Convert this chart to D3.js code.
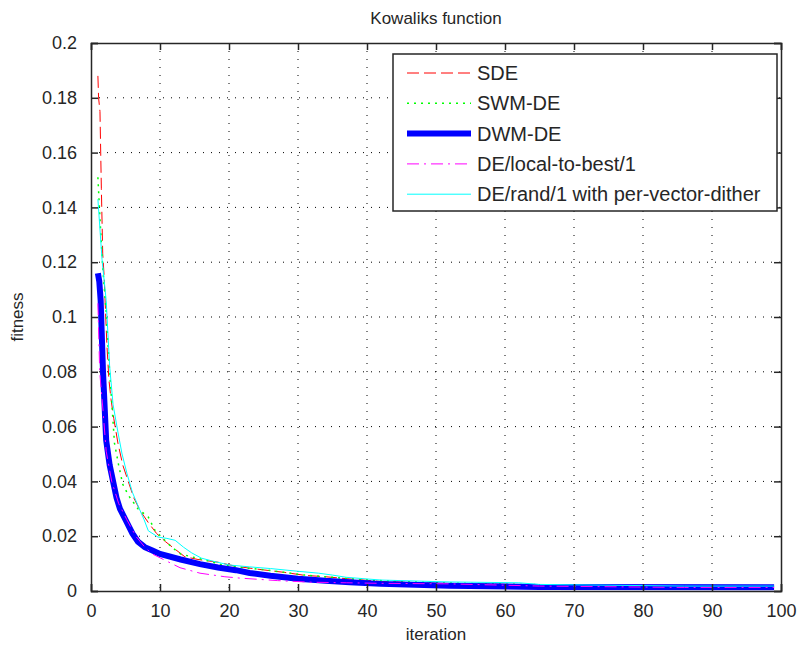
<!DOCTYPE html>
<html>
<head>
<meta charset="utf-8">
<script src="https://cdn.jsdelivr.net/npm/d3@7"></script>
<style>
  body { margin: 0; background: #fff; }
  text { font-family: "Liberation Sans", Arial, sans-serif; fill: #262626; }
</style>
</head>
<body>
<div id="chart"></div>
<script>
// tick values and labels
var xTicks = [0, 10, 20, 30, 40, 50, 60, 70, 80, 90, 100];
var yTicks = [0, 0.02, 0.04, 0.06, 0.08, 0.1, 0.12, 0.14, 0.16, 0.18, 0.2];
var yTickLabels = ['0', '0.02', '0.04', '0.06', '0.08', '0.1', '0.12', '0.14', '0.16', '0.18', '0.2'];

// series names, in plotting order
var names = ['SDE', 'SWM-DE', 'DWM-DE', 'DE/local-to-best/1', 'DE/rand/1 with per-vector-dither'];

// SDE
var sdeIter = [1, 1.1, 1.3, 1.5, 1.7, 1.9, 2.3, 2.6, 2.9, 3.3, 3.9, 4.6, 5.4, 6.2, 7.2, 8.3, 9.5, 10.8, 11.8, 13.6, 15.5, 18.4, 21, 25, 28, 31, 34, 37, 42, 50, 60, 70, 80, 90, 99];
var sdeFit = [0.188, 0.180, 0.175, 0.147, 0.123, 0.115, 0.090, 0.077, 0.070, 0.063, 0.054, 0.046, 0.040, 0.034, 0.029, 0.025, 0.021, 0.018, 0.016, 0.0125, 0.0115, 0.0105, 0.009, 0.0077, 0.0068, 0.0057, 0.0052, 0.0045, 0.0035, 0.0028, 0.0024, 0.0021, 0.0019, 0.0018, 0.0017];

// SWM-DE
var swmIter = [1, 1.1, 1.3, 1.7, 2.2, 2.36, 2.56, 2.7, 2.94, 3.4, 4.0, 4.6, 5.4, 6.8, 8.3, 9.3, 10.5, 11.7, 13, 15, 17, 19, 22, 25, 28, 31, 35, 40, 50, 60, 70, 80, 90, 99];
var swmFit = [0.151, 0.146, 0.136, 0.118, 0.102, 0.0946, 0.086, 0.080, 0.0715, 0.054, 0.046, 0.039, 0.035, 0.030, 0.027, 0.022, 0.019, 0.016, 0.0135, 0.0122, 0.011, 0.0095, 0.0085, 0.0078, 0.0068, 0.0058, 0.005, 0.004, 0.003, 0.0025, 0.0021, 0.0019, 0.0018, 0.0017];

// DWM-DE
var dwmIter = [1, 1.2, 1.4, 1.74, 2.2, 2.7, 3.2, 3.7, 4.2, 5, 6, 6.8, 7.8, 8.9, 10, 13, 15.8, 18.4, 21, 23, 26, 30, 34, 37.5, 42, 52, 65, 99];
var dwmFit = [0.116, 0.113, 0.106, 0.080, 0.055, 0.046, 0.040, 0.034, 0.030, 0.026, 0.021, 0.018, 0.016, 0.0148, 0.0135, 0.0115, 0.0098, 0.0086, 0.0076, 0.0066, 0.0056, 0.0045, 0.0037, 0.0032, 0.0026, 0.0019, 0.0015, 0.0014];

// DE/local-to-best/1
var ltbIter = [1, 1.26, 1.74, 2.2, 3, 4, 5.2, 6.5, 7.8, 8.9, 10.5, 12.9, 15.8, 19.4, 21.6, 27, 32, 37, 42, 52, 65, 86, 99];
var ltbFit = [0.105, 0.080, 0.066, 0.051, 0.040, 0.032, 0.026, 0.020, 0.016, 0.0135, 0.0115, 0.0085, 0.0065, 0.0052, 0.0047, 0.0038, 0.0032, 0.003, 0.0028, 0.0026, 0.0018, 0.0013, 0.0013];

// DE/rand/1 with per-vector-dither
var rndIter = [1, 1.6, 2.2, 2.7, 3.2, 3.9, 4.5, 5.2, 6, 7, 7.7, 8.3, 9.7, 11, 12.2, 13.4, 14.6, 16, 17.5, 20, 23, 26, 30, 33, 35, 37, 42, 52, 62, 65, 86, 99];
var rndFit = [0.143, 0.121, 0.106, 0.082, 0.068, 0.058, 0.050, 0.043, 0.036, 0.030, 0.026, 0.022, 0.0197, 0.0192, 0.0185, 0.016, 0.0139, 0.012, 0.011, 0.0095, 0.0088, 0.0082, 0.0072, 0.0065, 0.0058, 0.005, 0.004, 0.0033, 0.003, 0.0024, 0.0018, 0.0018];

var iters = [sdeIter, swmIter, dwmIter, ltbIter, rndIter];
var fits = [sdeFit, swmFit, dwmFit, ltbFit, rndFit];
var colors = ['#ff0000', '#00ff00', '#0000ff', '#ff00ff', '#00ffff'];
var widths = [1, 1.5, 6, 1, 1];
var dashes = ['12,5', '2,5', null, '12,5,2,5', null];

var width = 804, height = 650;
var plotL = 91, plotR = 781, plotT = 43, plotB = 591;

var svg = d3.select('#chart').append('svg')
    .attr('width', width)
    .attr('height', height);

var x = d3.scaleLinear().domain([0, 100]).range([plotL, plotR]);
var y = d3.scaleLinear().domain([0, 0.2]).range([plotB, plotT]);

//clip for the curves
svg.append('defs').append('clipPath').attr('id', 'plotclip')
    .append('rect')
    .attr('x', plotL).attr('y', plotT)
    .attr('width', plotR - plotL).attr('height', plotB - plotT);

//dotted grid
var grid = svg.append('g').attr('class', 'grid');
grid.selectAll('line.gx')
    .data(xTicks.slice(1, -1))
    .enter().append('line')
    .attr('x1', function (d) { return x(d); })
    .attr('x2', function (d) { return x(d); })
    .attr('y1', plotT).attr('y2', plotB)
    .attr('stroke', '#000').attr('stroke-width', 1)
    .attr('stroke-dasharray', '1,7');
grid.selectAll('line.gy')
    .data(yTicks.slice(1, -1))
    .enter().append('line')
    .attr('y1', function (d) { return y(d); })
    .attr('y2', function (d) { return y(d); })
    .attr('x1', plotL).attr('x2', plotR)
    .attr('stroke', '#000').attr('stroke-width', 1)
    .attr('stroke-dasharray', '1,7');

//curves
var line = d3.line()
    .x(function (d) { return x(d[0]); })
    .y(function (d) { return y(d[1]); });

var curves = svg.append('g').attr('clip-path', 'url(#plotclip)');
names.forEach(function (name, i) {
    var pts = iters[i].map(function (t, j) { return [t, fits[i][j]]; });
    curves.append('path')
        .datum(pts)
        .attr('d', line)
        .attr('fill', 'none')
        .attr('stroke', colors[i])
        .attr('stroke-width', widths[i])
        .attr('stroke-dasharray', dashes[i]);
});

//axes, ticks inside on all four sides
var axisColor = '#262626';
var xb = svg.append('g').attr('transform', 'translate(0,' + plotB + ')')
    .call(d3.axisBottom(x).tickValues(xTicks).tickSize(-7).tickPadding(13));
var xt = svg.append('g').attr('transform', 'translate(0,' + plotT + ')')
    .call(d3.axisTop(x).tickValues(xTicks).tickSize(-7).tickFormat(''));
var yl = svg.append('g').attr('transform', 'translate(' + plotL + ',0)')
    .call(d3.axisLeft(y).tickValues(yTicks).tickSize(-7).tickPadding(14)
        .tickFormat(function (d, i) { return yTickLabels[i]; }));
var yr = svg.append('g').attr('transform', 'translate(' + plotR + ',0)')
    .call(d3.axisRight(y).tickValues(yTicks).tickSize(-7).tickFormat(''));

[xb, xt, yl, yr].forEach(function (g) {
    g.selectAll('path').attr('stroke', axisColor).attr('stroke-width', 1.5);
    g.selectAll('line').attr('stroke', axisColor).attr('stroke-width', 1.5);
    g.selectAll('text').attr('font-size', 18)
        .attr('font-family', '"Liberation Sans", Arial, sans-serif')
        .attr('fill', axisColor);
});

//title and axis labels
svg.append('text')
    .attr('x', (plotL + plotR) / 2).attr('y', 24)
    .attr('text-anchor', 'middle')
    .attr('font-size', 17)
    .text('Kowaliks function');

svg.append('text')
    .attr('x', (plotL + plotR) / 2).attr('y', 640)
    .attr('text-anchor', 'middle')
    .attr('font-size', 17)
    .text('iteration');

svg.append('text')
    .attr('transform', 'translate(23,' + (plotT + plotB) / 2 + ') rotate(-90)')
    .attr('text-anchor', 'middle')
    .attr('font-size', 17)
    .text('fitness');

//legend
var lg = svg.append('g').attr('transform', 'translate(393,54)');
lg.append('rect')
    .attr('width', 384).attr('height', 157)
    .attr('fill', '#fff')
    .attr('stroke', axisColor).attr('stroke-width', 1.5);

var rows = lg.selectAll('g.row')
    .data(names)
    .enter().append('g')
    .attr('transform', function (d, i) { return 'translate(0,' + (19 + i * 30.3) + ')'; });

rows.append('line')
    .attr('x1', 14).attr('x2', 78)
    .attr('stroke', function (d, i) { return colors[i]; })
    .attr('stroke-width', function (d, i) { return widths[i]; })
    .attr('stroke-dasharray', function (d, i) { return dashes[i]; });

rows.append('text')
    .attr('x', 84).attr('y', 7)
    .attr('font-size', 20)
    .text(function (d) { return d; });
</script>
</body>
</html>
